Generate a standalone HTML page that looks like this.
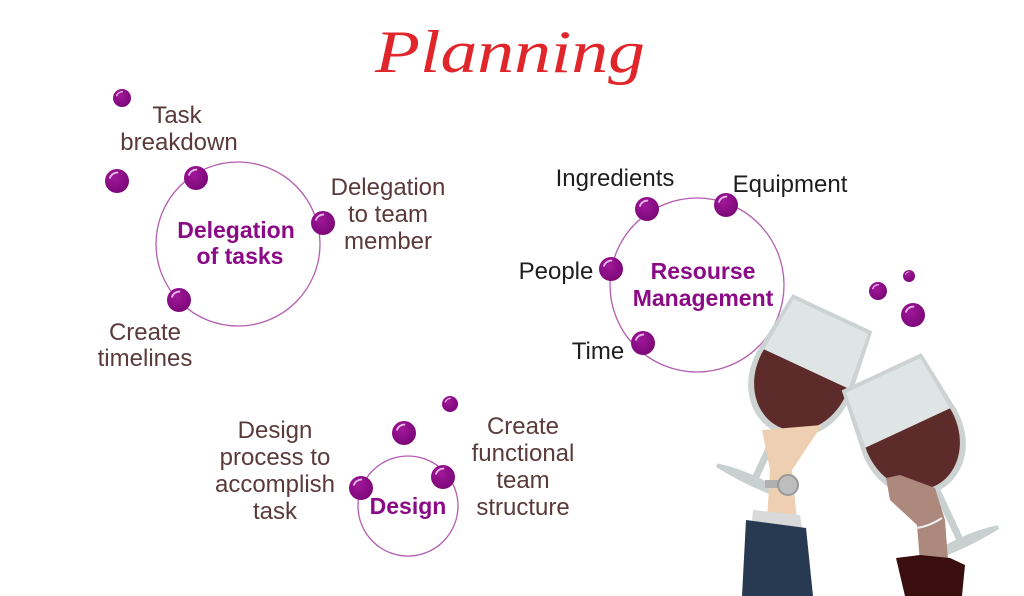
<!DOCTYPE html>
<html><head><meta charset="utf-8"><style>
html,body{margin:0;padding:0;background:#fff;}
svg{display:block;}
.t{font-family:"Liberation Sans",sans-serif;font-size:24px;fill:#5a3a3a;text-anchor:middle;}
.tb{font-family:"Liberation Sans",sans-serif;font-size:24px;fill:#1e1e1e;text-anchor:middle;}
.h{font-family:"Liberation Sans",sans-serif;font-size:23px;font-weight:bold;fill:#8b0a86;text-anchor:middle;}
</style></head><body>
<svg width="1024" height="596" viewBox="0 0 1024 596" xmlns="http://www.w3.org/2000/svg">
<defs>
<radialGradient id="b" cx="0.4" cy="0.35" r="0.7"><stop offset="0" stop-color="#a0189a"/><stop offset="1" stop-color="#7a0676"/></radialGradient>
<g id="bub"><circle r="1" fill="url(#b)"/><path d="M-0.6,-0.2 A0.65 0.65 0 0 1 0.1,-0.7" stroke="#e8b8e6" stroke-width="0.15" fill="none"/></g>
<clipPath id="wl"><rect x="-60" y="-10" width="120" height="80"/></clipPath>
<path id="bowl" d="M-44,-72 L44,-72 L52,-5 C54,35 28,60 0,60 C-28,60 -54,35 -52,-5 Z"/>
<path id="wine" d="M-41,-68 L41,-68 L47,-5 C48,30 25,54 0,54 C-25,54 -48,30 -47,-5 Z"/>
</defs>
<text x="510" y="72" font-family="Liberation Serif,serif" font-style="italic" font-size="60" fill="#e0262b" text-anchor="middle" textLength="270" lengthAdjust="spacingAndGlyphs">Planning</text>

<g fill="none" stroke="#b35db0" stroke-width="1.3">
<circle cx="238" cy="244" r="82"/>
<circle cx="697" cy="285" r="87"/>
<circle cx="408" cy="506" r="50"/>
</g>

<text class="h" x="236" y="238">Delegation</text>
<text class="h" x="240" y="264">of tasks</text>
<text class="h" x="703" y="279">Resourse</text>
<text class="h" x="703" y="306">Management</text>
<text class="h" x="408" y="514">Design</text>

<text class="t" x="177" y="123">Task</text>
<text class="t" x="179" y="150">breakdown</text>
<text class="t" x="388" y="195">Delegation</text>
<text class="t" x="388" y="222">to team</text>
<text class="t" x="388" y="249">member</text>
<text class="t" x="145" y="340">Create</text>
<text class="t" x="145" y="366">timelines</text>
<text class="t" x="275" y="438">Design</text>
<text class="t" x="275" y="465">process to</text>
<text class="t" x="275" y="492">accomplish</text>
<text class="t" x="275" y="519">task</text>
<text class="t" x="523" y="434">Create</text>
<text class="t" x="523" y="461">functional</text>
<text class="t" x="523" y="488">team</text>
<text class="t" x="523" y="515">structure</text>
<text class="tb" x="615" y="186">Ingredients</text>
<text class="tb" x="790" y="192">Equipment</text>
<text class="tb" x="556" y="279">People</text>
<text class="tb" x="598" y="359">Time</text>

<g>
<use href="#bub" transform="translate(122,98) scale(9)"/>
<use href="#bub" transform="translate(117,181) scale(12)"/>
<use href="#bub" transform="translate(196,178) scale(12)"/>
<use href="#bub" transform="translate(323,223) scale(12)"/>
<use href="#bub" transform="translate(179,300) scale(12)"/>
<use href="#bub" transform="translate(647,209) scale(12)"/>
<use href="#bub" transform="translate(726,205) scale(12)"/>
<use href="#bub" transform="translate(611,269) scale(12)"/>
<use href="#bub" transform="translate(643,343) scale(12)"/>
<use href="#bub" transform="translate(404,433) scale(12)"/>
<use href="#bub" transform="translate(450,404) scale(8)"/>
<use href="#bub" transform="translate(443,477) scale(12)"/>
<use href="#bub" transform="translate(361,488) scale(12)"/>
<use href="#bub" transform="translate(878,291) scale(9)"/>
<use href="#bub" transform="translate(909,276) scale(6)"/>
<use href="#bub" transform="translate(913,315) scale(12)"/>
</g>

<!-- left glass -->
<g transform="translate(802,378) rotate(25)">
<line x1="0" y1="55" x2="0" y2="115" stroke="#c9d0d0" stroke-width="7"/>
<path d="M-40,115 Q0,106 40,115 Q0,120 -40,115Z" fill="#c9d0d0" stroke="#c9d0d0" stroke-width="4"/>
<use href="#bowl" fill="#cdd3d3"/>
<use href="#wine" fill="#dfe5e5"/>
<use href="#wine" fill="#5e2b2b" clip-path="url(#wl)"/>
</g>
<polygon points="762,430 822,425 792,470 797,520 767,520 770,470" fill="#efcfb1"/>
<rect x="765" y="480" width="25" height="8" fill="#b0b0b0"/>
<circle cx="788" cy="485" r="10" fill="#bdbdbd" stroke="#999" stroke-width="2"/>
<polygon points="753,510 800,515 802,528 752,522" fill="#d9d9d9"/>
<polygon points="746,520 806,528 813,596 742,596" fill="#283a52"/>

<!-- right glass -->
<g transform="translate(912,437) rotate(-25)">
<line x1="0" y1="55" x2="0" y2="118" stroke="#c9d0d0" stroke-width="7"/>
<path d="M-40,118 Q0,109 40,118 Q0,123 -40,118Z" fill="#c9d0d0" stroke="#c9d0d0" stroke-width="4"/>
<use href="#bowl" fill="#cdd3d3"/>
<use href="#wine" fill="#dfe5e5"/>
<use href="#wine" fill="#5e2b2b" clip-path="url(#wl)"/>
</g>
<polygon points="886,478 900,475 935,488 945,520 948,560 920,562 917,525 890,500" fill="#ad887c"/>
<path d="M917,528 Q930,526 942,518" stroke="#eee" stroke-width="2" fill="none"/>
<polygon points="896,558 920,555 950,558 965,565 962,596 905,596" fill="#3a0e0e"/>
</svg>
</body></html>
